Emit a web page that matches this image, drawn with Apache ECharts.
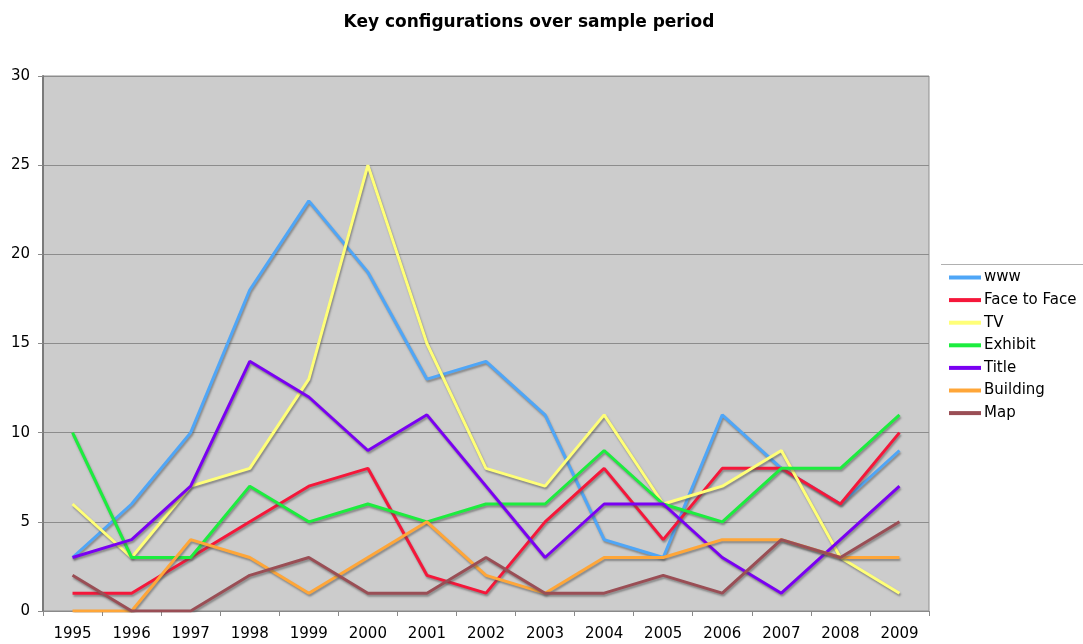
<!DOCTYPE html>
<html><head><meta charset="utf-8">
<script src="https://cdn.jsdelivr.net/npm/echarts@6/dist/echarts.min.js"></script>
<style>html,body{margin:0;padding:0;background:#fff}#c{width:1083px;height:644px}</style>
</head><body><div id="c"></div>
<script>
const years = ['1995','1996','1997','1998','1999','2000','2001','2002','2003','2004','2005','2006','2007','2008','2009'];
const www        = [3, 6, 10, 18, 23, 19, 13, 14, 11, 4, 3, 11, 8, 6, 9];
const faceToFace = [1, 1, 3, 5, 7, 8, 2, 1, 5, 8, 4, 8, 8, 6, 10];
const tv         = [6, 3, 7, 8, 13, 25, 15, 8, 7, 11, 6, 7, 9, 3, 1];
const exhibit    = [10, 3, 3, 7, 5, 6, 5, 6, 6, 9, 6, 5, 8, 8, 11];
const title      = [3, 4, 7, 14, 12, 9, 11, 7, 3, 6, 6, 3, 1, 4, 7];
const building   = [0, 0, 4, 3, 1, 3, 5, 2, 1, 3, 3, 4, 4, 3, 3];
const map        = [2, 0, 0, 2, 3, 1, 1, 3, 1, 1, 2, 1, 4, 3, 5];
const seriesNames = ['www','Face to Face','TV','Exhibit','Title','Building','Map'];
const seriesData = [www, faceToFace, tv, exhibit, title, building, map];
const colors = ['#4fa6f7','#f5173a','#ffff78','#1ced3e','#7a00f2','#ffa638','#9a4e55'];
const FONT = '"DejaVu Sans", Verdana, sans-serif';

const chart = echarts.init(document.getElementById('c'));
chart.setOption({
  animation: false,
  color: colors,
  title: {
    text: 'Key configurations over sample period',
    left: 524, textAlign: 'center', top: 9,
    textStyle: { fontFamily: FONT, fontSize: 17, fontWeight: 'bold', color: '#000' }
  },
  legend: {
    orient: 'vertical', left: 944, top: 265,
    itemWidth: 32, itemHeight: 4, itemGap: 7.6,
    icon: 'rect',
    textStyle: { fontFamily: FONT, fontSize: 15, color: '#000', padding: [0,0,0,-2] },
    data: seriesNames
  },
  graphic: [{
    type: 'line', shape: { x1: 941, y1: 264.5, x2: 1083, y2: 264.5 },
    style: { stroke: '#b0b0b0', lineWidth: 1 }
  }],
  grid: {
    left: 43, right: 154, top: 76, bottom: 33,
    show: true, backgroundColor: '#cccccc', borderColor: '#8f8f8f', borderWidth: 1
  },
  xAxis: {
    type: 'category', data: years, boundaryGap: true,
    axisLine: { lineStyle: { color: '#8a8a8a', width: 1 } },
    axisTick: { show: true, length: 5, lineStyle: { color: '#8a8a8a' } },
    axisLabel: { fontFamily: FONT, fontSize: 15, color: '#000', margin: 16 },
    splitLine: { show: false }
  },
  yAxis: {
    type: 'value', min: 0, max: 30, interval: 5,
    axisLine: { show: true, lineStyle: { color: '#7a7a7a', width: 2 } },
    axisTick: { show: true, length: 5, lineStyle: { color: '#8a8a8a' } },
    axisLabel: { fontFamily: FONT, fontSize: 15, color: '#000', margin: 13 },
    splitLine: { show: true, lineStyle: { color: '#8c8c8c', width: 1 } }
  },
  series: seriesNames.map((n, i) => ({
    name: n, type: 'line', data: seriesData[i],
    symbol: 'none', smooth: false,
    lineStyle: { width: 3, color: colors[i],
      shadowColor: 'rgba(80,80,80,0.55)', shadowBlur: 2, shadowOffsetX: 1, shadowOffsetY: 2 },
    itemStyle: { color: colors[i] }
  }))
});
</script></body></html>
